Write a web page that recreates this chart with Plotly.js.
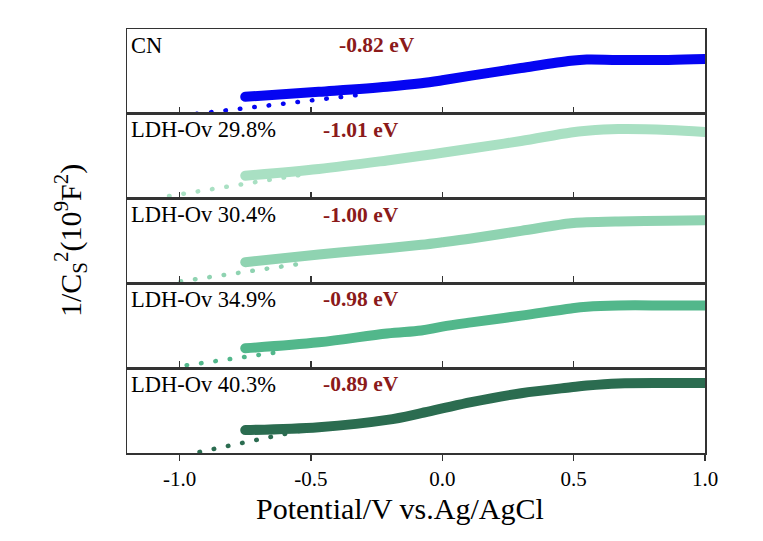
<!DOCTYPE html>
<html>
<head>
<meta charset="utf-8">
<script src="https://cdn.plot.ly/plotly-3.0.1.min.js"></script>
<style>
html,body{margin:0;padding:0;background:#fff;}
#chart{width:763px;height:541px;}
#chart path.js-line{stroke-linecap:round !important;}
#err{position:absolute;left:0;top:0;font:10px monospace;white-space:pre-wrap;width:760px;}
</style>
</head>
<body>
<div id="chart"></div>
<div id="err"></div>
<script>
// ---- data ----
var sampleNames = ['CN', 'LDH-Ov 29.8%', 'LDH-Ov 30.4%', 'LDH-Ov 34.9%', 'LDH-Ov 40.3%'];
var flatBand = ['-0.82 eV', '-1.01 eV', '-1.00 eV', '-0.98 eV', '-0.89 eV'];
var potential = [-0.75, -0.47, -0.21, -0.08, 0.0, 0.11, 0.30, 0.49, 0.55, 0.67, 0.86, 1.0];
var invC2_CN   = [2.0, 2.6, 3.2, 3.6, 3.95, 4.5, 5.4, 6.25, 6.4, 6.35, 6.35, 6.45];
var invC2_298  = [2.7, 3.5, 4.5, 5.05, 5.4, 5.9, 6.8, 7.8, 8.0, 8.2, 8.1, 7.85];
var invC2_304  = [2.5, 3.4, 4.15, 4.55, 4.85, 5.3, 6.2, 7.1, 7.2, 7.3, 7.4, 7.45];
var invC2_349  = [2.35, 3.05, 4.1, 4.45, 4.9, 5.4, 6.2, 7.05, 7.25, 7.4, 7.4, 7.4];
var invC2_403  = [2.7, 3.05, 3.9, 4.7, 5.25, 6.0, 7.05, 7.75, 7.95, 8.2, 8.25, 8.25];
var fitX_CN  = [-0.935, -0.315];  var fitY_CN  = [0.0, 2.24];
var fitX_298 = [-1.04, -0.536];   var fitY_298 = [0.3, 2.82];
var fitX_304 = [-0.996, -0.506];  var fitY_304 = [0.24, 2.47];
var fitX_349 = [-0.973, -0.60];   var fitY_349 = [0.35, 2.0];
var fitX_403 = [-0.924, -0.53];   var fitY_403 = [0.12, 2.7];
var xTickVals = [-1.0, -0.5, 0.0, 0.5, 1.0];
var xTickText = ['-1.0', '-0.5', '0.0', '0.5', '1.0'];
var xMinorVals = [-0.75, -0.25, 0.25, 0.75];
var xTitle = 'Potential/V vs.Ag/AgCl';
var yTitle = '1/C<sub>S</sub><sup>2</sup>(10<sup>9</sup>F<sup>2</sup>)';

// ---- styling ----
var series = [invC2_CN, invC2_298, invC2_304, invC2_349, invC2_403];
var fitsX = [fitX_CN, fitX_298, fitX_304, fitX_349, fitX_403];
var fitsY = [fitY_CN, fitY_298, fitY_304, fitY_349, fitY_403];
var colors = ['#0505f2', '#a9e0c3', '#8fd3b1', '#52b78b', '#2b6c50'];
var valueX = [-0.25, -0.31, -0.31, -0.31, -0.31];
var FONT = 'Liberation Serif';
var axisCol = '#333333';

var traces = [];
var layout = {
  width: 763, height: 541,
  margin: {l: 127, r: 58, t: 29, b: 88},
  paper_bgcolor: '#ffffff', plot_bgcolor: '#ffffff',
  showlegend: false,
  font: {family: FONT, color: '#000', size: 20},
  annotations: []
};

for (var i = 0; i < 5; i++) {
  var k = i + 1;
  var sfx = (k === 1 ? '' : String(k));
  var xa = 'x' + sfx, ya = 'y' + sfx;
  var isBottom = (i === 4);
  traces.push({
    x: fitsX[i], y: fitsY[i], xaxis: xa, yaxis: ya, mode: 'lines',
    line: {color: colors[i], width: 4.5, dash: '0.5px,14px'}, hoverinfo: 'skip'
  });
  traces.push({
    x: potential, y: series[i], xaxis: xa, yaxis: ya, mode: 'lines',
    line: {color: colors[i], width: 10, shape: 'spline', smoothing: 1}
  });
  var panelTop = 1 - i * 0.2, panelBot = 1 - (i + 1) * 0.2;
  layout['xaxis' + sfx] = {
    domain: [0, 1], anchor: ya, range: [-1.2, 1.0],
    showline: true, linecolor: axisCol, linewidth: 1.5, mirror: true,
    showgrid: false, zeroline: false,
    ticks: isBottom ? 'outside' : 'inside', ticklen: isBottom ? 6 : 7, tickwidth: 1.5, tickcolor: axisCol,
    tickmode: 'array', tickvals: xTickVals, ticktext: xTickText,
    showticklabels: isBottom,
    tickfont: {family: FONT, size: 21, color: '#000'}
  };
  layout['yaxis' + sfx] = {
    domain: [panelBot, panelTop], anchor: xa, range: [0, 10],
    showline: true, linecolor: axisCol, linewidth: 1.5, mirror: true,
    showgrid: false, zeroline: false, ticks: '', showticklabels: false
  };
  var m = 5 + k;
  layout['xaxis' + m] = {
    overlaying: xa, anchor: ya, side: 'bottom', range: [-1.2, 1.0],
    showline: false, showgrid: false, zeroline: false,
    ticks: isBottom ? 'outside' : 'inside', ticklen: isBottom ? 3.5 : 4, tickwidth: 1.2, tickcolor: axisCol,
    tickmode: 'array', tickvals: xMinorVals, showticklabels: false
  };
  layout.annotations.push({
    xref: 'paper', yref: 'paper', x: 0, y: panelTop, xanchor: 'left', yanchor: 'middle',
    xshift: 2, yshift: -16, text: sampleNames[i], showarrow: false,
    font: {family: FONT, size: 22.5, color: '#000'}
  });
  layout.annotations.push({
    xref: 'paper', yref: 'paper', x: (valueX[i] + 1.2) / 2.2, y: panelTop, xanchor: 'center', yanchor: 'middle',
    yshift: -16, text: '<b>' + flatBand[i] + '</b>', showarrow: false,
    font: {family: FONT, size: 21.5, color: '#8b1a1a'}
  });
}
layout.annotations.push({
  xref: 'paper', yref: 'paper', x: 0.472, y: 0, xanchor: 'center', yanchor: 'middle',
  yshift: -55, showarrow: false, text: xTitle,
  font: {family: FONT, size: 30, color: '#000'}
});
layout.annotations.push({
  xref: 'paper', yref: 'paper', x: 0, y: 0.5, xanchor: 'center', yanchor: 'middle',
  xshift: -57, textangle: -90, showarrow: false, text: yTitle,
  font: {family: FONT, size: 30, color: '#000'}
});

try {
  Plotly.newPlot('chart', traces, layout, {staticPlot: true, displayModeBar: false})
    .catch(function (e) { document.getElementById('err').textContent = 'async: ' + (e && e.stack || e); });
} catch (e) {
  document.getElementById('err').textContent = String(e.stack || e).slice(0, 3000);
}
</script>
</body>
</html>
